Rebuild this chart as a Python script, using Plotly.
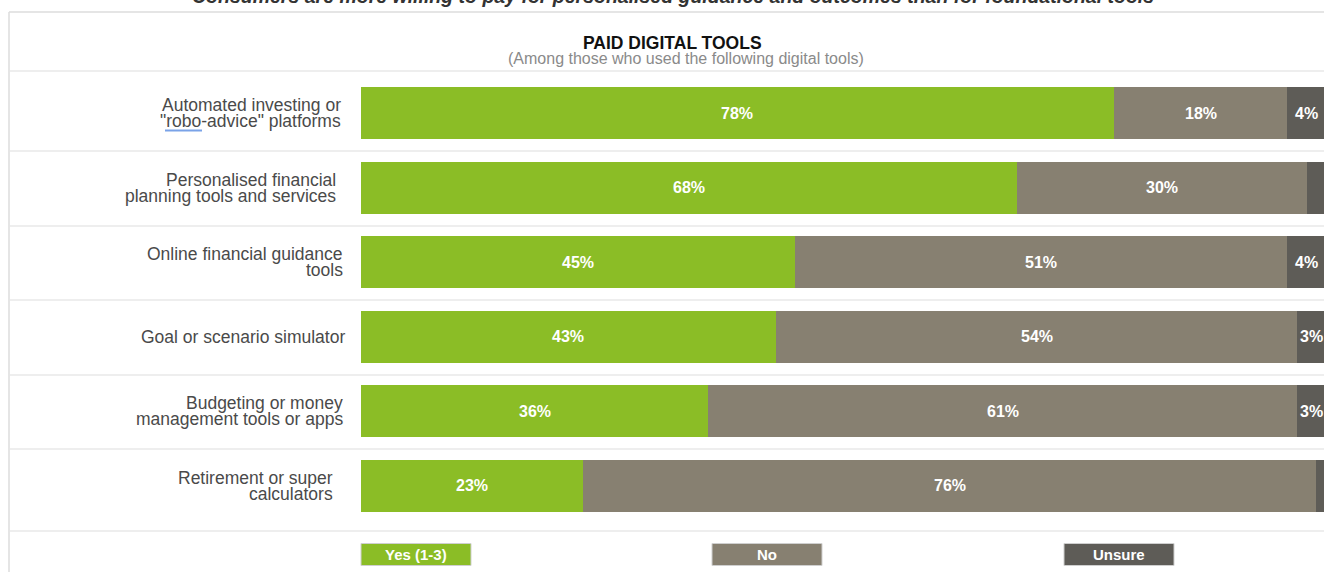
import plotly.graph_objects as go

# Survey results: share of users who paid for each digital tool
categories = [
    "Automated investing or<br>\"robo-advice\" platforms",
    "Personalised financial<br>planning tools and services",
    "Online financial guidance<br>tools",
    "Goal or scenario simulator",
    "Budgeting or money<br>management tools or apps",
    "Retirement or super<br>calculators",
]
yes_pct = [78, 68, 45, 43, 36, 23]
no_pct = [18, 30, 51, 54, 61, 76]
unsure_pct = [4, 2, 4, 3, 3, 1]
series_names = ["Yes (1-3)", "No", "Unsure"]

chart_title = "Consumers are more willing to pay for personalised guidance and outcomes than for foundational tools"
panel_title = "PAID DIGITAL TOOLS"
panel_subtitle = "(Among those who used the following digital tools)"

# Styling
COLORS = ["#8BBD26", "#878071", "#5E5C57"]
FONT = "Liberation Sans, Arial, sans-serif"
W, H = 1324, 572
M_L, M_R, M_T, M_B = 361, 0, 76, 49
PLOT_W = W - M_L - M_R
PLOT_H = H - M_T - M_B
X_MAX = 100 * PLOT_W / 965.0  # the 100% end sits just past the right edge
label_right_px = [343, 338, 345, 347, 345, 335]


def px(x):
    return (x - M_L) / PLOT_W


def py(y):
    return (H - M_B - y) / PLOT_H


series = [yes_pct, no_pct, unsure_pct]
fig = go.Figure()
for name, vals, col in zip(series_names, series, COLORS):
    fig.add_trace(go.Bar(
        y=categories, x=vals, name=name, orientation="h",
        marker=dict(color=col, line=dict(width=0)),
        width=0.7, showlegend=False, hoverinfo="x+name",
    ))

annotations = []
shapes = []

# Value labels centred in each segment
for i, cat in enumerate(categories):
    start = 0
    for vals in series:
        v = vals[i]
        if v >= 3:
            annotations.append(dict(
                x=start + v / 2, y=cat, xref="x", yref="y",
                text=f"<b>{v}%</b>", showarrow=False,
                font=dict(family=FONT, size=16, color="white"),
                xanchor="center", yanchor="middle",
            ))
        start += v

# Category labels, right aligned, tight line spacing
row_h = PLOT_H / len(categories)
for i, cat in enumerate(categories):
    lines = cat.split("<br>")
    yc = M_T + row_h * (i + 0.5)
    n = len(lines)
    for k, line in enumerate(lines):
        ly = yc + (k - (n - 1) / 2) * 16
        annotations.append(dict(
            x=px(label_right_px[i]), y=py(ly), xref="paper", yref="paper",
            text=line, showarrow=False, xanchor="right", yanchor="middle",
            font=dict(family=FONT, size=17.5, color="#4a4a4a"),
        ))

# Headline (partly above the page edge) and panel header
annotations.append(dict(
    x=px(673), y=py(9), xref="paper", yref="paper",
    text=f"<b><i>{chart_title}</i></b>", showarrow=False,
    xanchor="center", yanchor="bottom",
    font=dict(family=FONT, size=19.5, color="#333333"),
))
annotations.append(dict(
    x=px(672), y=py(43), xref="paper", yref="paper",
    text=f"<b>{panel_title}</b>", showarrow=False,
    xanchor="center", yanchor="middle",
    font=dict(family=FONT, size=17.5, color="#111111"),
))
annotations.append(dict(
    x=px(686), y=py(58), xref="paper", yref="paper",
    text=panel_subtitle, showarrow=False,
    xanchor="center", yanchor="middle",
    font=dict(family=FONT, size=16, color="#8a8a8a"),
))

# Panel frame and row separators
shapes.append(dict(type="line", xref="paper", yref="paper",
                   x0=px(9), x1=px(W + 5), y0=py(12), y1=py(12),
                   line=dict(color="#dcdcdc", width=1.5)))
shapes.append(dict(type="line", xref="paper", yref="paper",
                   x0=px(9), x1=px(9), y0=py(12), y1=py(H + 5),
                   line=dict(color="#dcdcdc", width=1.5)))
for sy in [71, 151, 226, 300, 375, 449, 531]:
    shapes.append(dict(type="line", xref="paper", yref="paper",
                       x0=px(10), x1=px(W + 5), y0=py(sy), y1=py(sy),
                       line=dict(color="#eeeeee", width=2), layer="below"))

# Spell-check squiggle under "robo"
shapes.append(dict(type="line", xref="paper", yref="paper",
                   x0=px(165), x1=px(202), y0=py(130.5), y1=py(130.5),
                   line=dict(color="#7aa3e8", width=2)))

# Legend as coloured tags
legend_left_px = [361, 712, 1064]
for name, col, lx in zip(series_names, COLORS, legend_left_px):
    shapes.append(dict(type="rect", xref="paper", yref="paper",
                       x0=px(lx), x1=px(lx + 110), y0=py(543.5), y1=py(565.5),
                       fillcolor=col, line=dict(color="#cfcfcf", width=1)))
    annotations.append(dict(
        x=px(lx + 55), y=py(554.5), xref="paper", yref="paper",
        text=f"<b>{name}</b>", showarrow=False,
        xanchor="center", yanchor="middle",
        font=dict(family=FONT, size=15, color="white"),
    ))

fig.update_layout(
    barmode="stack",
    width=W, height=H,
    margin=dict(l=M_L, r=M_R, t=M_T, b=M_B, pad=0),
    paper_bgcolor="white", plot_bgcolor="white",
    xaxis=dict(range=[0, X_MAX], visible=False, fixedrange=True),
    yaxis=dict(categoryorder="array", categoryarray=categories,
               autorange="reversed", visible=False, fixedrange=True),
    annotations=annotations, shapes=shapes,
    showlegend=False,
)

fig.write_html("out.html", config={"displayModeBar": False})
